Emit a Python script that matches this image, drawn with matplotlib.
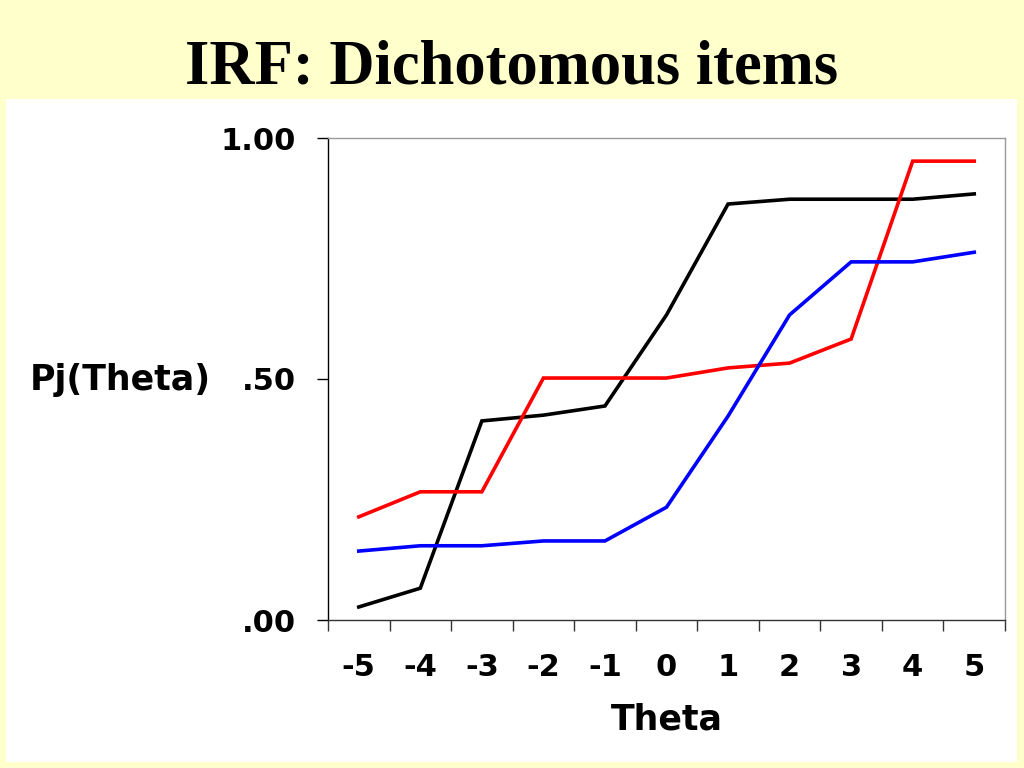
import matplotlib
matplotlib.use("Agg")
import matplotlib.pyplot as plt
from matplotlib.patches import Rectangle

categories = ["-5", "-4", "-3", "-2", "-1", "0", "1", "2", "3", "4", "5"]
item_black = [0.027, 0.066, 0.413, 0.425, 0.444, 0.633, 0.863, 0.873, 0.873, 0.873, 0.884]
item_red = [0.214, 0.266, 0.266, 0.502, 0.502, 0.502, 0.523, 0.533, 0.583, 0.952, 0.952]
item_blue = [0.143, 0.154, 0.154, 0.164, 0.164, 0.234, 0.423, 0.633, 0.743, 0.743, 0.763]
ytick_vals = [0.0, 0.5, 1.0]
ytick_labels = [".00", ".50", "1.00"]

W, H = 1024, 768
fig = plt.figure(figsize=(W / 100, H / 100), dpi=100)
fig.patch.set_facecolor("#FFFFCC")

# white panel
fig.patches.append(Rectangle((6 / W, 1 - 762 / H), (1017 - 6) / W, (762 - 99) / H,
                             transform=fig.transFigure, facecolor="white",
                             edgecolor="none", zorder=-5))

fig.text(512 / W, 1 - 68 / H, "IRF: Dichotomous items", ha="center", va="center",
         family="Liberation Serif", fontweight="bold", fontsize=45)

ax = fig.add_axes([328 / W, 1 - 620 / H, (1005 - 328) / W, (620 - 138) / H])
ax.set_zorder(2)
ax.set_facecolor("white")
x = list(range(len(categories)))
ax.plot(x, item_black, color="black", lw=2.6, solid_joinstyle="miter")
ax.plot(x, item_red, color="#FF0000", lw=2.6, solid_joinstyle="miter")
ax.plot(x, item_blue, color="#0000FF", lw=2.6, solid_joinstyle="miter")

ax.set_xlim(-0.5, len(categories) - 0.5)
ax.set_ylim(0, 1)
ax.set_yticks(ytick_vals)
ax.set_yticklabels(ytick_labels)
ax.set_xticks(x)
ax.set_xticklabels(categories)
ax.set_xticks([i - 0.5 for i in range(len(categories) + 1)], minor=True)
ax.tick_params(axis="x", which="major", length=0, pad=24)
ax.tick_params(axis="x", which="minor", length=8, width=1, color="#333333")
ax.tick_params(axis="y", length=8, width=1, pad=15)
for lab in ax.get_xticklabels() + ax.get_yticklabels():
    lab.set_fontweight("bold")
    lab.set_fontsize(22)
    lab.set_family("DejaVu Sans")

ax.spines["left"].set_color("black")
ax.spines["bottom"].set_color("#333333")
ax.spines["top"].set_color("#999999")
ax.spines["right"].set_color("#999999")
for s in ax.spines.values():
    s.set_linewidth(1)

fig.text(120 / W, 1 - 380 / H, "Pj(Theta)", ha="center", va="center",
         fontweight="bold", fontsize=25, family="DejaVu Sans")
fig.text(667 / W, 1 - 720 / H, "Theta", ha="center", va="center",
         fontweight="bold", fontsize=25, family="DejaVu Sans")

fig.savefig("out.png", dpi=100, facecolor=fig.get_facecolor())
